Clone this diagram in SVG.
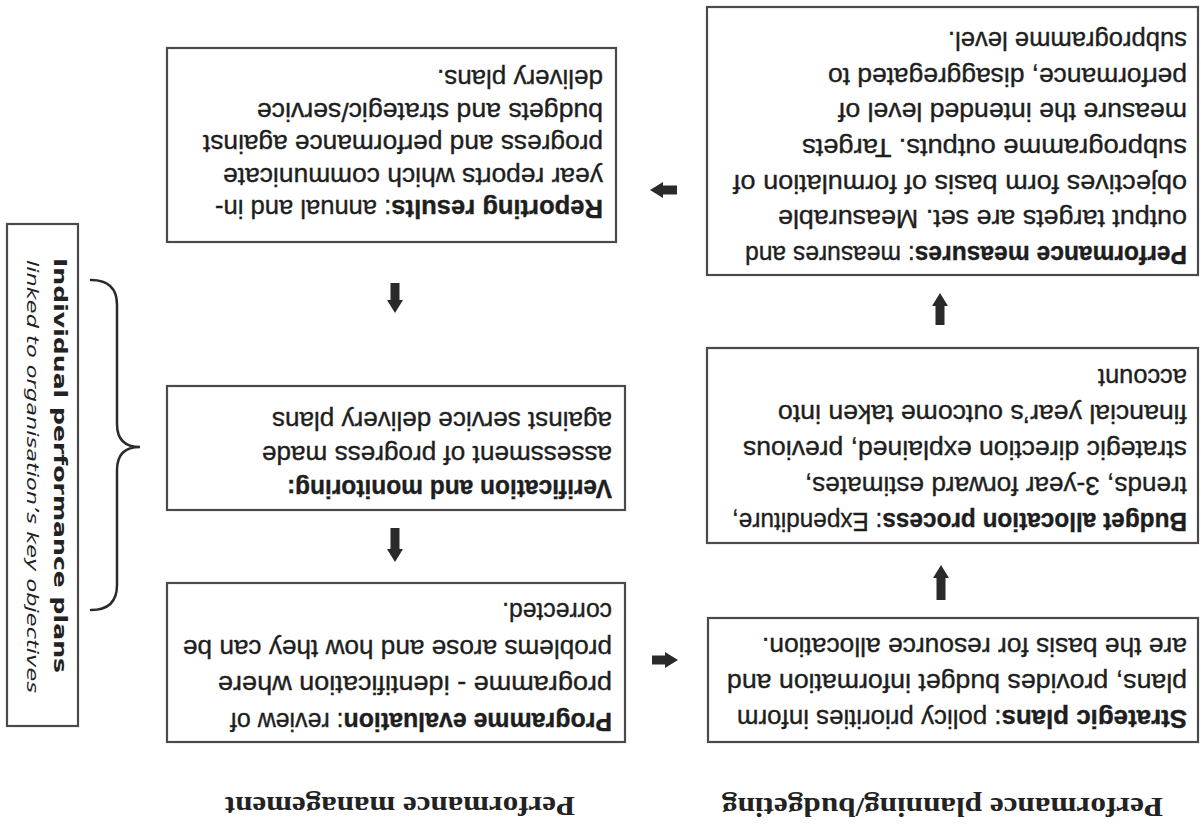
<svg xmlns="http://www.w3.org/2000/svg" width="1201" height="825" viewBox="0 0 1201 825">
<style>
.box{fill:#fff;stroke:#4a4a4a;stroke-width:2.2}
.t{font-family:"Liberation Sans",Arial,sans-serif;font-size:25px;fill:#1e1e1e;stroke:#1e1e1e;stroke-width:0.35}
.b{font-weight:bold}
.title{font-family:"Liberation Serif","Times New Roman",serif;font-size:28px;font-weight:bold;fill:#222}
.side{font-family:"DejaVu Sans","Liberation Sans",sans-serif;fill:#222}
.arrow{fill:#2a2a2a}
.brace{fill:none;stroke:#2a2a2a;stroke-width:2.5;stroke-linecap:round}
</style>
<rect width="1201" height="825" fill="#fff"/>
<g transform="rotate(180 600.5 412.5)">
  <g id="title-planning">
    <text class="title" x="38" y="27" textLength="441" lengthAdjust="spacingAndGlyphs">Performance planning/budgeting</text>
  </g>
  <g id="title-management">
    <text class="title" x="626" y="28" textLength="350" lengthAdjust="spacingAndGlyphs">Performance management</text>
  </g>
  <g id="strategic-plans">
    <rect class="box" x="3" y="83" width="490" height="124"/>
    <text class="t" x="14" y="115" textLength="450" lengthAdjust="spacingAndGlyphs"><tspan class="b">Strategic plans</tspan>: policy priorities inform</text>
    <text class="t" x="14" y="151" textLength="460" lengthAdjust="spacingAndGlyphs">plans, provides budget information and</text>
    <text class="t" x="14" y="187" textLength="425" lengthAdjust="spacingAndGlyphs">are the basis for resource allocation.</text>
  </g>
  <g id="budget-allocation">
    <rect class="box" x="3" y="282" width="491" height="195"/>
    <text class="t" x="14" y="312" textLength="455" lengthAdjust="spacingAndGlyphs"><tspan class="b">Budget allocation process</tspan>: Expenditure,</text>
    <text class="t" x="14" y="348" textLength="382" lengthAdjust="spacingAndGlyphs">trends, 3-year forward estimates,</text>
    <text class="t" x="14" y="384" textLength="444" lengthAdjust="spacingAndGlyphs">strategic direction explained, previous</text>
    <text class="t" x="14" y="420" textLength="409" lengthAdjust="spacingAndGlyphs">financial year’s outcome taken into</text>
    <text class="t" x="14" y="456" textLength="89" lengthAdjust="spacingAndGlyphs">account</text>
  </g>
  <g id="performance-measures">
    <rect class="box" x="3" y="550" width="491" height="268"/>
    <text class="t" x="14" y="579" textLength="442" lengthAdjust="spacingAndGlyphs"><tspan class="b">Performance measures</tspan>: measures and</text>
    <text class="t" x="14" y="614.7" textLength="409" lengthAdjust="spacingAndGlyphs">output targets are set.  Measurable</text>
    <text class="t" x="14" y="650.4" textLength="454" lengthAdjust="spacingAndGlyphs">objectives form basis of formulation of</text>
    <text class="t" x="14" y="686.1" textLength="385" lengthAdjust="spacingAndGlyphs">subprogramme outputs.  Targets</text>
    <text class="t" x="14" y="721.8" textLength="349" lengthAdjust="spacingAndGlyphs">measure the intended level of</text>
    <text class="t" x="14" y="757.5" textLength="359" lengthAdjust="spacingAndGlyphs">performance, disaggregated to</text>
    <text class="t" x="14" y="793.2" textLength="239" lengthAdjust="spacingAndGlyphs">subprogramme level.</text>
  </g>
  <g id="programme-evaluation">
    <rect class="box" x="576" y="83" width="458" height="159"/>
    <text class="t" x="589" y="112" textLength="382" lengthAdjust="spacingAndGlyphs"><tspan class="b">Programme evaluation</tspan>: review of</text>
    <text class="t" x="589" y="148.7" textLength="394" lengthAdjust="spacingAndGlyphs">programme - identification where</text>
    <text class="t" x="589" y="185.4" textLength="429" lengthAdjust="spacingAndGlyphs">problems arose and how they can be</text>
    <text class="t" x="589" y="222" textLength="110" lengthAdjust="spacingAndGlyphs">corrected.</text>
  </g>
  <g id="verification-monitoring">
    <rect class="box" x="576" y="315" width="458" height="124"/>
    <text class="t b" x="589" y="345" textLength="325" lengthAdjust="spacingAndGlyphs">Verification and monitoring:</text>
    <text class="t" x="589" y="379" textLength="350" lengthAdjust="spacingAndGlyphs">assessment of progress made</text>
    <text class="t" x="589" y="413" textLength="340" lengthAdjust="spacingAndGlyphs">against service delivery plans</text>
  </g>
  <g id="reporting-results">
    <rect class="box" x="585" y="583" width="449" height="194"/>
    <text class="t" x="598" y="625" textLength="388" lengthAdjust="spacingAndGlyphs"><tspan class="b">Reporting results</tspan>: annual and in-</text>
    <text class="t" x="598" y="657.5" textLength="380" lengthAdjust="spacingAndGlyphs">year reports which communicate</text>
    <text class="t" x="598" y="690" textLength="400" lengthAdjust="spacingAndGlyphs">progress and performance against</text>
    <text class="t" x="598" y="722.5" textLength="346" lengthAdjust="spacingAndGlyphs">budgets and strategic/service</text>
    <text class="t" x="598" y="755" textLength="166" lengthAdjust="spacingAndGlyphs">delivery plans.</text>
  </g>
  <g id="individual-plans">
    <rect class="box" x="1123" y="99" width="71" height="502"/>
    <text class="side" font-size="18" font-weight="bold" transform="translate(1147 567) rotate(-90)" textLength="415" lengthAdjust="spacingAndGlyphs">Individual performance plans</text>
    <text class="side" font-size="15" font-style="italic" transform="translate(1174 565) rotate(-90)" textLength="433" lengthAdjust="spacingAndGlyphs">linked to organisation’s key objectives</text>
  </g>
  <g id="connectors">
    <polygon class="arrow" points="255.5,225 264.5,225 264.5,247 268,247 260,260 252,247 255.5,247"/>
    <polygon class="arrow" points="256.5,500 265.5,500 265.5,519 269,519 261,532 253,519 256.5,519"/>
    <polygon class="arrow" points="524,630.5 538,630.5 538,627 551,635 538,643 538,639.5 524,639.5"/>
    <polygon class="arrow" points="801.5,542 810.5,542 810.5,525 814,525 806,512 798,525 801.5,525"/>
    <polygon class="arrow" points="801.5,297 810.5,297 810.5,276 814,276 806,263 798,276 801.5,276"/>
    <polygon class="arrow" points="549,160.5 536,160.5 536,157 523,165 536,173 536,169.5 549,169.5"/>
    <path class="brace" d="M1110 215 Q1084 215 1084 240 L1084 355 Q1084 378 1061 378 Q1084 378 1084 401 L1084 520 Q1084 545 1110 545"/>
  </g>
</g>
</svg>
